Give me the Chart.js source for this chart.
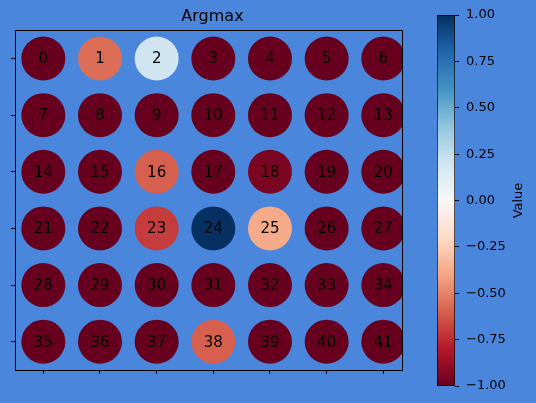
<!DOCTYPE html>
<html>
<head>
<meta charset="utf-8">
<script src="https://cdn.jsdelivr.net/npm/chart.js@4"></script>
<style>
    body { margin: 0; background: #4a86dc; }
    #wrap { position: relative; width: 536px; height: 403px; background: #4a86dc; }
    canvas { position: absolute; top: 0; }
</style>
</head>
<body>
<div id="wrap">
    <canvas id="grid" width="536" height="403" style="left:0"></canvas>
    <canvas id="cbar" width="136" height="403" style="left:400px"></canvas>
</div>
<script>
// grid shape and the value of each cell (row-major, cell index = label)
const N_COLS = 7;
const N_ROWS = 6;
const cellValues = [
    -1, -0.56, 0.2, -1, -1, -1, -1,
    -1, -1, -1, -1, -1, -1, -1,
    -1, -1, -0.6, -1, -0.95, -1, -1,
    -1, -1, -0.7, 1, -0.38, -1, -1,
    -1, -1, -1, -1, -1, -1, -1,
    -1, -1, -1, -0.6, -1, -1, -1,
];
const cellLabels = cellValues.map((v, i) => String(i));
const colTicks = [0, 1, 2, 3, 4, 5, 6];
const rowTicks = [0, 1, 2, 3, 4, 5];
const cbarTicks = [-1, -0.75, -0.5, -0.25, 0, 0.25, 0.5, 0.75, 1];
const cbarMin = -1;
const cbarMax = 1;

// RdBu colour stops, from -1 to 1
const rdbuStops = [
    '#67001f', '#b2182b', '#d6604d', '#f4a582', '#fddbc7', '#f7f7f7',
    '#d1e5f0', '#92c5de', '#4393c3', '#2166ac', '#053061'
];

const FONT = '"DejaVu Sans", sans-serif';

/**
 * Map a value in [-1, 1] to an RdBu colour
 * @param {number} v
 * @returns {string}
 */
function rdbu(v) {
    const t = Math.min(1, Math.max(0, (v - cbarMin) / (cbarMax - cbarMin))) * (rdbuStops.length - 1);
    const i = Math.min(rdbuStops.length - 2, Math.floor(t));
    const f = t - i;
    const a = hexToRgb(rdbuStops[i]);
    const b = hexToRgb(rdbuStops[i + 1]);
    const c = a.map((x, k) => Math.round(x + (b[k] - x) * f));
    return `rgb(${c[0]},${c[1]},${c[2]})`;
}

function hexToRgb(hex) {
    const n = parseInt(hex.slice(1), 16);
    return [(n >> 16) & 255, (n >> 8) & 255, n & 255];
}

const points = cellValues.map((v, i) => ({ x: i % N_COLS, y: Math.floor(i / N_COLS) }));

const cellLabelPlugin = {
    id: 'cellLabels',
    afterDatasetsDraw(chart) {
        const ctx = chart.ctx;
        const meta = chart.getDatasetMeta(0);
        ctx.save();
        ctx.font = '15px ' + FONT;
        ctx.fillStyle = '#000';
        ctx.textAlign = 'center';
        ctx.textBaseline = 'middle';
        meta.data.forEach((pt, i) => ctx.fillText(cellLabels[i], pt.x, pt.y + 1));
        ctx.restore();
    }
};

const framePlugin = {
    id: 'frame',
    afterDraw(chart) {
        const { ctx, chartArea } = chart;
        ctx.save();
        ctx.strokeStyle = '#000';
        ctx.lineWidth = 1;
        ctx.strokeRect(Math.round(chartArea.left) + 0.5, Math.round(chartArea.top) + 0.5,
            Math.round(chartArea.right - chartArea.left), Math.round(chartArea.bottom - chartArea.top));
        ctx.restore();
    }
};

const tickGrid = { display: true, drawOnChartArea: false, drawTicks: true, tickLength: 4, color: '#000' };

new Chart(document.getElementById('grid'), {
    type: 'scatter',
    data: {
        datasets: [{
            data: points,
            backgroundColor: (c) => rdbu(cellValues[c.dataIndex]),
            borderWidth: 0,
            pointRadius: 22,
            pointHoverRadius: 22,
        }]
    },
    options: {
        responsive: false,
        animation: false,
        events: [],
        layout: { autoPadding: false, padding: { left: 11, right: 122, top: 0, bottom: 29 } },
        scales: {
            x: {
                type: 'linear', min: -0.5, max: 6.33,
                afterBuildTicks: (s) => { s.ticks = colTicks.map((v) => ({ value: v })); },
                afterFit: (s) => { s.height = 4; },
                ticks: { display: false },
                grid: tickGrid,
                border: { display: false },
            },
            y: {
                type: 'linear', min: -0.5, max: N_ROWS - 0.5, reverse: true,
                afterBuildTicks: (s) => { s.ticks = rowTicks.map((v) => ({ value: v })); },
                afterFit: (s) => { s.width = 4; },
                ticks: { display: false },
                grid: tickGrid,
                border: { display: false },
            },
            // empty spacer so the title centres where the reference has it
            spacer: {
                type: 'linear', position: 'right', display: true,
                afterFit: (s) => { s.width = 12; },
                ticks: { display: false },
                grid: { display: false },
                border: { display: false },
            }
        },
        plugins: {
            legend: { display: false },
            tooltip: { enabled: false },
            title: {
                display: true, text: 'Argmax', color: '#000',
                font: { family: FONT, size: 16, weight: 'normal' },
                padding: { top: 7, bottom: 4 },
            }
        }
    },
    plugins: [cellLabelPlugin, framePlugin]
});

const cbarTitlePlugin = {
    id: 'cbarTitle',
    afterDraw(chart) {
        const { ctx, chartArea } = chart;
        ctx.save();
        ctx.translate(chartArea.right + 64, (chartArea.top + chartArea.bottom) / 2);
        ctx.rotate(-Math.PI / 2);
        ctx.font = '13px ' + FONT;
        ctx.fillStyle = '#000';
        ctx.textAlign = 'center';
        ctx.textBaseline = 'middle';
        ctx.fillText('Value', 0, 0);
        ctx.restore();
    }
};

new Chart(document.getElementById('cbar'), {
    type: 'bar',
    data: {
        labels: ['Value'],
        datasets: [{
            data: [[cbarMin, cbarMax]],
            backgroundColor: (c) => {
                const { chart } = c;
                if (!chart.chartArea) return rdbuStops[0];
                const y = chart.scales.y;
                const g = chart.ctx.createLinearGradient(0, y.getPixelForValue(cbarMin), 0, y.getPixelForValue(cbarMax));
                rdbuStops.forEach((col, i) => g.addColorStop(i / (rdbuStops.length - 1), col));
                return g;
            },
            borderColor: '#000',
            borderWidth: 1,
            borderSkipped: false,
            barPercentage: 1,
            categoryPercentage: 1,
        }]
    },
    options: {
        responsive: false,
        animation: false,
        events: [],
        layout: { autoPadding: false, padding: { left: 37, right: 0, top: 15, bottom: 17 } },
        scales: {
            x: { display: false },
            y: {
                position: 'right', min: cbarMin, max: cbarMax,
                afterBuildTicks: (s) => { s.ticks = cbarTicks.map((v) => ({ value: v })); },
                afterFit: (s) => { s.width = 81; },
                ticks: {
                    color: '#000', padding: 7,
                    font: { family: FONT, size: 13 },
                    callback: (v) => (v < 0 ? '\u2212' : '') + Math.abs(v).toFixed(2),
                },
                grid: tickGrid,
                border: { display: false },
            }
        },
        plugins: { legend: { display: false }, tooltip: { enabled: false } }
    },
    plugins: [cbarTitlePlugin]
});
</script>
</body>
</html>
